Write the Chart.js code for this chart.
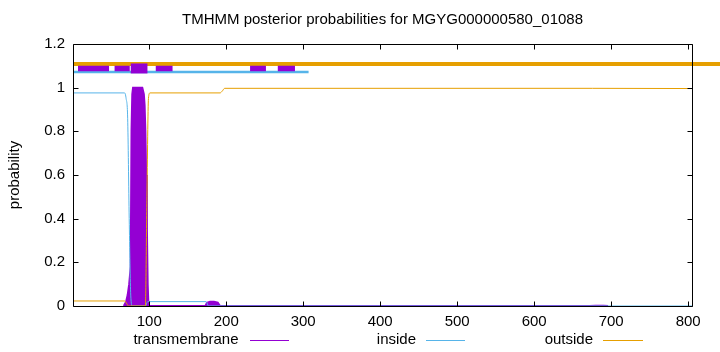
<!DOCTYPE html>
<html>
<head>
<meta charset="utf-8">
<script src="https://cdn.jsdelivr.net/npm/chart.js@4.4.0/dist/chart.umd.min.js"></script>
<style>
  html, body { margin: 0; padding: 0; background: #fff; }
  #wrap { width: 720px; height: 352px; }
</style>
</head>
<body>
<div id="wrap"><canvas id="tmhmm" width="720" height="352"></canvas></div>
<script>
// TMHMM posterior probabilities for one protein

var titleText = 'TMHMM posterior probabilities for MGYG000000580_01088';

// transmembrane probability (drawn as impulses in the original)
var tmPos  = [67, 70, 72, 74, 76, 77, 78, 79, 85, 91, 93, 94, 95, 96, 97, 98, 99, 173, 175, 179, 184, 189, 192, 672, 680, 690, 696];
var tmProb = [0, 0.02, 0.05, 0.1, 0.18, 0.8, 0.97, 1.0, 1.0, 1.0, 0.97, 0.92, 0.8, 0.6, 0.35, 0.1, 0, 0, 0.015, 0.02, 0.02, 0.015, 0, 0, 0.001, 0.001, 0];

// inside probability
var inPos  = [1, 68, 70, 72, 74, 76, 78, 95, 98, 174, 177, 805];
var inProb = [0.976, 0.976, 0.95, 0.86, 0.4, 0.05, 0, 0, 0.02, 0.02, 0, 0];

// outside probability
var outPos  = [1, 68, 71, 73, 95, 97, 99, 101, 192, 195, 198, 676, 805];
var outProb = [0.023, 0.023, 0.01, 0, 0, 0.5, 0.95, 0.976, 0.976, 0.985, 0.997, 0.997, 0.996];

// predicted topology bars drawn above the curves
var tmSegments   = [[7.5, 47.8], [55, 74.7], [108.5, 130.3], [231, 251.6], [267, 289.3]];
var tmCore       = [[76, 97.7]];
var inSegments   = [[1, 307]];
var outSegments  = [[1, 842]];
var tmLevel = 1.088, inLevel = 1.072, outLevel = 1.108;

var xTicks = [100, 200, 300, 400, 500, 600, 700, 800];
var yTicks = [0, 0.2, 0.4, 0.6, 0.8, 1, 1.2];

var PURPLE = '#9400d3', BLUE = '#56b4e9', ORANGE = '#e69f00';
var FONT = '"Liberation Sans", Arial, sans-serif';
var FS = 15;

function pts(xs, ys) {
  return xs.map(function (x, i) { return { x: x, y: ys[i] }; });
}

function segs(list, level) {
  var out = [];
  list.forEach(function (s) {
    out.push({ x: s[0], y: level }, { x: s[1], y: level }, { x: s[1], y: null });
  });
  return out;
}

// title, frame with inward ticks on all four sides, and the gnuplot style key
var framePlugin = {
  id: 'frame',
  afterDraw: function (chart) {
    var ctx = chart.ctx, a = chart.chartArea;
    var xs = chart.scales.x, ys = chart.scales.y;
    var L = Math.round(a.left) + 0.5, R = Math.round(a.right) + 0.5;
    var T = Math.round(a.top) + 0.5, B = Math.round(a.bottom) + 0.5;
    ctx.save();
    ctx.strokeStyle = '#000';
    ctx.lineWidth = 1;
    ctx.beginPath();
    ctx.rect(L, T, R - L, B - T);
    xTicks.forEach(function (v) {
      var px = Math.round(xs.getPixelForValue(v)) + 0.5;
      ctx.moveTo(px, B); ctx.lineTo(px, B - 5);
      ctx.moveTo(px, T); ctx.lineTo(px, T + 5);
    });
    yTicks.forEach(function (v) {
      var py = Math.round(ys.getPixelForValue(v)) + 0.5;
      ctx.moveTo(L, py); ctx.lineTo(L + 5, py);
      ctx.moveTo(R, py); ctx.lineTo(R - 5, py);
    });
    ctx.stroke();

    ctx.font = FS + 'px ' + FONT;
    ctx.fillStyle = '#000';
    ctx.textBaseline = 'middle';

    // title centred over the plot area
    ctx.textAlign = 'center';
    ctx.fillText(titleText, (a.left + a.right) / 2, 20);

    // key below the axis: label, then a line sample
    var entries = [
      { text: 'transmembrane', color: PURPLE, right: 238.5, x0: 250, x1: 289 },
      { text: 'inside',        color: BLUE,   right: 416,   x0: 426, x1: 465 },
      { text: 'outside',       color: ORANGE, right: 593,   x0: 603, x1: 643 }
    ];
    ctx.textAlign = 'right';
    entries.forEach(function (e) {
      ctx.fillText(e.text, e.right, 340);
      ctx.strokeStyle = e.color;
      ctx.beginPath();
      ctx.moveTo(e.x0, 340.5); ctx.lineTo(e.x1, 340.5);
      ctx.stroke();
    });
    ctx.restore();
  }
};

var chart = new Chart(document.getElementById('tmhmm'), {
  type: 'line',
  data: {
    datasets: [
      { label: 'tm core', data: segs(tmCore, tmLevel), borderColor: PURPLE, borderWidth: 10, spanGaps: false, clip: false },
      { label: 'tm bars', data: segs(tmSegments, tmLevel), borderColor: PURPLE, borderWidth: 5.5, spanGaps: false, clip: false },
      { label: 'in bar', data: segs(inSegments, inLevel), borderColor: BLUE, borderWidth: 2.5, spanGaps: false, clip: false },
      { label: 'out bar', data: segs(outSegments, outLevel), borderColor: ORANGE, borderWidth: 4, spanGaps: false, clip: false },
      { label: 'outside', data: pts(outPos, outProb), borderColor: ORANGE, borderWidth: 1, cubicInterpolationMode: 'monotone' },
      { label: 'inside', data: pts(inPos, inProb), borderColor: BLUE, borderWidth: 1, cubicInterpolationMode: 'monotone' },
      { label: 'transmembrane', data: pts(tmPos, tmProb), borderColor: PURPLE, backgroundColor: PURPLE, borderWidth: 2, fill: 'origin' }
    ]
  },
  options: {
    responsive: false,
    animation: false,
    devicePixelRatio: 1,
    elements: { point: { radius: 0 }, line: { tension: 0 } },
    layout: { padding: { left: 0, right: 28, top: 44, bottom: 0 } },
    plugins: {
      legend: { display: false },
      tooltip: { enabled: false },
      title: { display: false }
    },
    scales: {
      x: {
        type: 'linear',
        min: 1,
        max: 805,
        grid: { display: false, drawTicks: false, tickLength: 0 },
        border: { display: false },
        afterBuildTicks: function (s) { s.ticks = xTicks.map(function (v) { return { value: v }; }); },
        afterFit: function (s) { s.height = 46; },
        ticks: { color: '#000', font: { family: FONT, size: FS }, maxRotation: 0, padding: 7 }
      },
      y: {
        min: 0,
        max: 1.2,
        grid: { display: false, drawTicks: false, tickLength: 0 },
        border: { display: false },
        afterBuildTicks: function (s) { s.ticks = yTicks.map(function (v) { return { value: v }; }); },
        afterFit: function (s) { s.width = 73; },
        ticks: {
          color: '#000',
          font: { family: FONT, size: FS },
          padding: 8,
          callback: function (v) { return String(Math.round(v * 10) / 10); }
        },
        title: {
          display: true,
          text: 'probability',
          color: '#000',
          font: { family: FONT, size: FS },
          padding: { top: 6, bottom: 0 }
        }
      }
    }
  },
  plugins: [framePlugin]
});
</script>
</body>
</html>
